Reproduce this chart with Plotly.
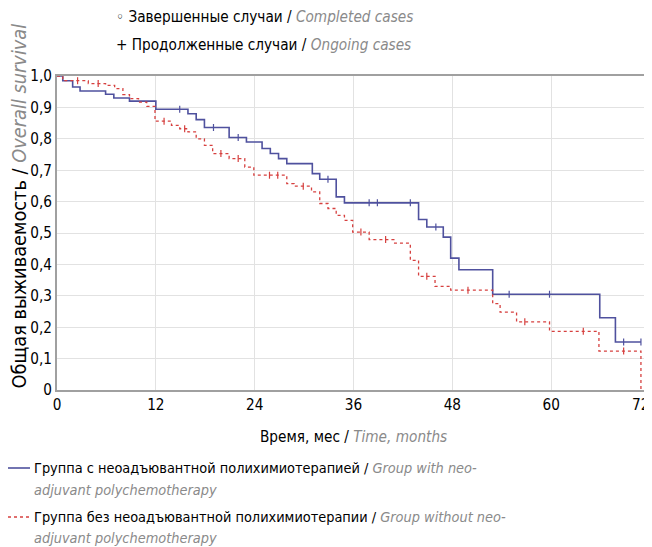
import plotly.graph_objects as go

# Kaplan-Meier step data (time in months, survival after event)
blue_t = [0, 0.7, 1.9, 2.8, 5.9, 6.9, 8.8, 12.0, 15.9, 16.9, 17.9, 20.9, 23.0, 24.9, 25.9,
          26.9, 27.9, 31.0, 31.9, 33.9, 34.9, 43.9, 44.9, 46.9, 47.8, 48.8, 52.9, 65.9, 67.8, 70.9]
blue_s = [1.0, 0.985, 0.965, 0.952, 0.942, 0.93, 0.92, 0.894, 0.88, 0.861, 0.836, 0.804, 0.79, 0.769, 0.753,
          0.737, 0.721, 0.689, 0.671, 0.615, 0.596, 0.543, 0.519, 0.487, 0.42, 0.383, 0.305, 0.23, 0.153, 0.153]

red_t = [0, 0.7, 3.8, 5.9, 7.0, 8.0, 8.8, 9.9, 10.9, 11.9, 13.9, 14.9, 15.9, 16.9, 17.9, 18.9,
         20.9, 22.8, 23.9, 27.9, 28.8, 30.9, 31.9, 32.9, 33.9, 34.9, 35.9, 37.9, 40.9, 42.9, 43.9,
         45.9, 47.8, 52.9, 53.8, 55.8, 59.8, 65.8, 70.9]
red_s = [1.0, 0.985, 0.976, 0.97, 0.96, 0.941, 0.928, 0.917, 0.903, 0.856, 0.843, 0.832, 0.822, 0.80, 0.779, 0.753,
         0.737, 0.71, 0.684, 0.657, 0.649, 0.631, 0.594, 0.578, 0.556, 0.54, 0.503, 0.479, 0.468, 0.413, 0.362,
         0.33, 0.318, 0.275, 0.248, 0.217, 0.187, 0.124, 0.0]

# censored observations (times)
blue_cens = [14.9, 19.0, 22.0, 32.9, 37.9, 38.9, 42.9, 46.0, 54.9, 59.8, 68.8, 70.9]
red_cens = [2.5, 5.0, 13.0, 15.5, 19.9, 22.0, 25.8, 26.8, 29.9, 36.9, 39.9, 44.9, 49.9, 56.8, 63.9, 68.8]

x_ticks = [0, 12, 24, 36, 48, 60, 72]
y_ticks = [0, 0.1, 0.2, 0.3, 0.4, 0.5, 0.6, 0.7, 0.8, 0.9, 1.0]
y_labels = ["0", "0,1", "0,2", "0,3", "0,4", "0,5", "0,6", "0,7", "0,8", "0,9", "1,0"]

group_names_ru = ["Группа с неоадъювантной полихимиотерапией / ",
                  "Группа без неоадъювантной полихимиотерапии / "]
group_names_en_1 = ["Group with neo-", "Group without neo-"]
group_names_en_2 = ["adjuvant polychemotherapy", "adjuvant polychemotherapy"]

BLUE = "#4f519e"
RED = "#d6403f"
GREY = "#8a8a8a"
FONT = "DejaVu Sans Condensed, Liberation Sans Narrow, sans-serif"
FS = 15.2
FS_LEG = 14.4
FS_YT = 19.8


def step_at(ts, ss, tc):
    v = ss[0]
    for t, s in zip(ts, ss):
        if t <= tc:
            v = s
    return v


def en(txt):
    return "<i><span style='color:%s'>%s</span></i>" % (GREY, txt)


fig = go.Figure()
fig.add_trace(go.Scatter(
    x=blue_t, y=blue_s, mode="lines", line=dict(color=BLUE, width=1.6, shape="hv"),
    name=group_names_ru[0], showlegend=False))
fig.add_trace(go.Scatter(
    x=red_t, y=red_s, mode="lines", line=dict(color=RED, width=1.3, shape="hv", dash="dot"),
    name=group_names_ru[1], showlegend=False))
fig.add_trace(go.Scatter(
    x=blue_cens, y=[step_at(blue_t, blue_s, t) for t in blue_cens], mode="markers",
    marker=dict(symbol="line-ns-open", size=5, color=BLUE, line=dict(color=BLUE, width=1.2)), showlegend=False))
fig.add_trace(go.Scatter(
    x=red_cens, y=[step_at(red_t, red_s, t) for t in red_cens], mode="markers",
    marker=dict(symbol="line-ns-open", size=5, color=RED, line=dict(color=RED, width=1.2)), showlegend=False))

# page body has an 8px default margin, so the figure is sized to fit the window
W, H = 644, 539
ML, MR, MT, MB = 49, 2, 68, 157


def px(xp):
    return (xp - ML) / (W - ML - MR)


def py(yp):
    return (H - MB - yp) / (H - MT - MB)


annotations = [
    dict(text="◦ Завершенные случаи / " + en("Completed cases"),
         x=px(106), y=py(8.5), xanchor="left"),
    dict(text="+ Продолженные случаи / " + en("Ongoing cases"),
         x=px(106), y=py(37.5), xanchor="left"),
    dict(text="Время, мес / " + en("Time, months"),
         x=0.5, y=py(429), xanchor="center"),
    dict(text="Общая выживаемость / " + en("Overall survival"),
         x=px(10.5), y=py(198), xanchor="center", textangle=-90, font=dict(size=FS_YT)),
    dict(text=str(x_ticks[-1]), x=px(642.5), y=py(397), xanchor="right"),
    dict(text=group_names_ru[0] + en(group_names_en_1[0]), x=px(24), y=py(460), xanchor="left",
         font=dict(size=FS_LEG)),
    dict(text=en(group_names_en_2[0]), x=px(24), y=py(482), xanchor="left", font=dict(size=FS_LEG)),
    dict(text=group_names_ru[1] + en(group_names_en_1[1]), x=px(24), y=py(509), xanchor="left",
         font=dict(size=FS_LEG)),
    dict(text=en(group_names_en_2[1]), x=px(24), y=py(530), xanchor="left", font=dict(size=FS_LEG)),
]
for a in annotations:
    a.setdefault("font", dict(size=FS))
    a.update(xref="paper", yref="paper", yanchor="middle", showarrow=False)

shapes = [
    dict(type="line", xref="paper", yref="paper", x0=px(0), x1=px(22), y0=py(460), y1=py(460),
         line=dict(color=BLUE, width=1.6)),
    dict(type="line", xref="paper", yref="paper", x0=px(0), x1=px(22), y0=py(509), y1=py(509),
         line=dict(color=RED, width=1.3, dash="dot")),
]

fig.update_layout(
    width=W, height=H,
    margin=dict(l=ML, r=MR, t=MT, b=MB, autoexpand=False),
    paper_bgcolor="white", plot_bgcolor="white",
    font=dict(family=FONT, size=FS, color="black"),
    showlegend=False,
    xaxis=dict(range=[0, 72], tickvals=x_ticks,
               ticktext=[str(v) for v in x_ticks[:-1]] + [""],
               showgrid=True, gridcolor="#e2e2e2", gridwidth=1, zeroline=False,
               showline=True, linecolor="#a0a0a0", linewidth=2, mirror=True,
               ticks="", tickfont=dict(size=FS), automargin=False, ticklabeloverflow="allow"),
    yaxis=dict(range=[0, 1.0], tickvals=y_ticks, ticktext=y_labels,
               showgrid=True, gridcolor="#e2e2e2", gridwidth=1, zeroline=False,
               showline=True, linecolor="#a0a0a0", linewidth=2, mirror=True,
               ticks="", tickfont=dict(size=FS), automargin=False, ticklabeloverflow="allow"),
    annotations=annotations,
    shapes=shapes,
)

fig.write_html("out.html")
